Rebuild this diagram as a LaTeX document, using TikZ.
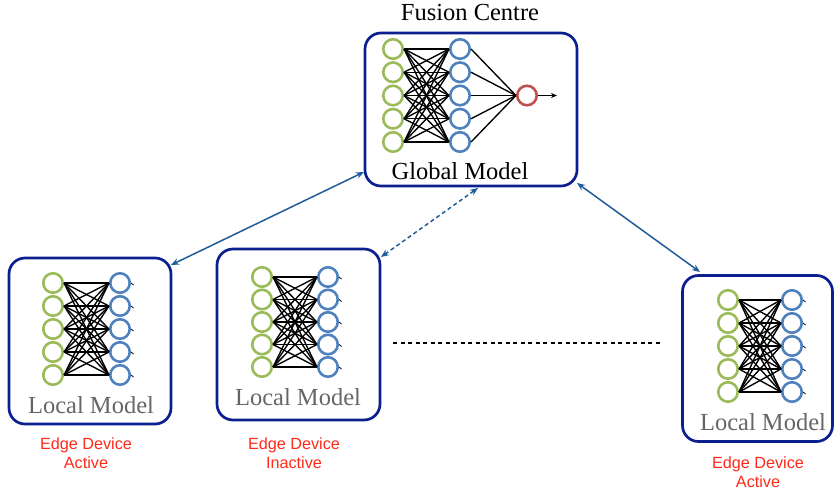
\documentclass[tikz,border=0pt]{standalone}
\usepackage{fontspec}
\setmainfont{Liberation Serif}
\newfontfamily\arialf{Liberation Sans}
\usetikzlibrary{arrows.meta}
\definecolor{boxblue}{HTML}{0B1F8E}
\definecolor{arrblue}{HTML}{1F5C99}
\definecolor{ngreen}{HTML}{9BBB59}
\definecolor{nblue}{HTML}{4F81BD}
\definecolor{nred}{HTML}{C0504D}
\definecolor{lblred}{HTML}{FF2A1A}
\definecolor{lgray}{HTML}{666666}
\begin{document}
\begin{tikzpicture}[x=1pt,y=-1pt,
  devbox/.style={draw=boxblue,line width=2.7pt,rounded corners=16pt,inner sep=0pt},
  neuron/.style={circle,inner sep=0pt,minimum size=19.5pt,line width=2.6pt,fill=white},
  gn/.style={neuron,draw=ngreen},
  bn/.style={neuron,draw=nblue},
  rn/.style={neuron,draw=nred},
  wire/.style={line width=1.35pt,black},
  title/.style={font=\fontsize{24.5}{28}\selectfont},
  lmtext/.style={font=\fontsize{24.5}{28}\selectfont,text=lgray},
  devlabel/.style={font=\arialf\fontsize{16.2}{19}\selectfont,text=lblred,align=center},
  link/.style={draw=arrblue,line width=1.5pt,{Stealth[length=8pt,width=6.5pt]}-{Stealth[length=8pt,width=6.5pt]}}
]
\useasboundingbox (0,0) rectangle (834,495);

% ---------- Fusion centre ----------
\node[devbox,minimum width=212pt,minimum height=153pt] (F) at (471,109.5) {};
\node[title] (ft) at (470,13) {Fusion Centre};
\node[title] (gm) at (460,171) {Global Model};
\foreach \i/\y in {1/49,2/72.25,3/95.5,4/118.75,5/142}{
  \node[gn] (FG\i) at (393,\y) {};
  \node[bn] (FB\i) at (460,\y) {};
}
\node[rn] (FR) at (527,95.5) {};
\coordinate (FO) at (557,95.5);
\foreach \i in {1,...,5}{
  \foreach \j in {1,...,5}{
    \draw[wire] (FG\i.east) -- (FB\j.west);
  }
  \draw[wire] (FB\i.east) -- (FR.west);
}
\draw[wire,-{Stealth[length=6pt,width=5pt]}] (FR.east) -- (FO);

% ---------- Local model 1 ----------
\node[devbox,minimum width=162pt,minimum height=166pt] (L1) at (90,341) {};
\foreach \i/\y in {1/283,2/306,3/329,4/352,5/375}{
  \node[gn] (AG\i) at (53,\y) {};
  \node[bn] (AB\i) at (120,\y) {};
  \coordinate (AS\i) at (124+9.5,\y+2);
}
\foreach \i in {1,...,5}{
  \foreach \j in {1,...,5}{ \draw[wire] (AG\i.east) -- (AB\j.west); }
  \draw[wire,line width=0.8pt] (AB\i.east) -- (AS\i);
}
\node[lmtext] (L1t) at (91,405) {Local Model};
\node[devlabel] (L1d) at (86,453) {Edge Device\\Active};

% ---------- Local model 2 ----------
\node[devbox,minimum width=163pt,minimum height=171pt] (L2) at (298.5,334.5) {};
\foreach \i/\y in {1/277,2/299.5,3/322,4/344.5,5/367}{
  \node[gn] (BG\i) at (262,\y) {};
  \node[bn] (BB\i) at (328,\y) {};
  \coordinate (BS\i) at (332+9.5,\y+2);
}
\foreach \i in {1,...,5}{
  \foreach \j in {1,...,5}{ \draw[wire] (BG\i.east) -- (BB\j.west); }
  \draw[wire,line width=0.8pt] (BB\i.east) -- (BS\i);
}
\node[lmtext] (L2t) at (298,397) {Local Model};
\node[devlabel] (L2d) at (294,453) {Edge Device\\Inactive};

% ---------- Local model 3 ----------
\node[devbox,minimum width=150pt,minimum height=166pt] (L3) at (757.5,358.5) {};
\foreach \i/\y in {1/300,2/323,3/346,4/369,5/392}{
  \node[gn] (CG\i) at (728,\y) {};
  \node[bn] (CB\i) at (792,\y) {};
  \coordinate (CS\i) at (796+9.5,\y+2);
}
\foreach \i in {1,...,5}{
  \foreach \j in {1,...,5}{ \draw[wire] (CG\i.east) -- (CB\j.west); }
  \draw[wire,line width=0.8pt] (CB\i.east) -- (CS\i);
}
\node[lmtext] (L3t) at (763,422) {Local Model};
\node[devlabel] (L3d) at (758,472) {Edge Device\\Active};

% ---------- links ----------
\coordinate (l1a) at (171,265);
\coordinate (l1b) at (364,172);
\coordinate (l2a) at (381,257);
\coordinate (l2b) at (478,188);
\coordinate (l3a) at (577,183);
\coordinate (l3b) at (700,272);
\draw[link] (l1a) -- (l1b);
\draw[link,dash pattern=on 4pt off 3pt] (l2a) -- (l2b);
\draw[link] (l3a) -- (l3b);

\coordinate (d1) at (393,343);
\coordinate (d2) at (662,343);
\draw[line width=1.3pt,dash pattern=on 4pt off 3.5pt] (d1) -- (d2);
\end{tikzpicture}
\end{document}
